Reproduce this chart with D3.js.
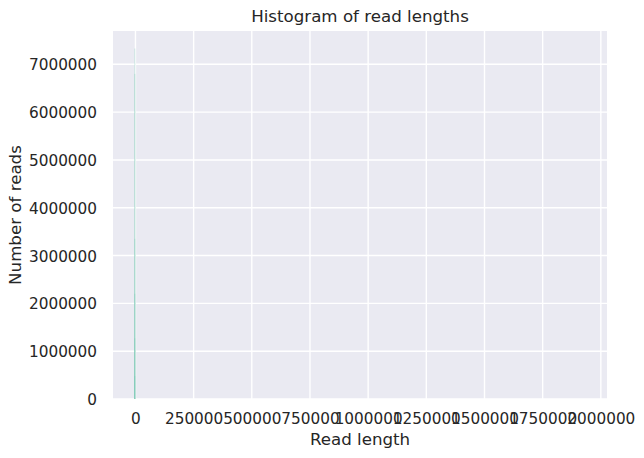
<!DOCTYPE html>
<html>
<head>
<meta charset="utf-8">
<script src="https://cdn.jsdelivr.net/npm/d3@7"></script>
<style>
  html, body { margin: 0; padding: 0; background: #ffffff; }
  svg { display: block; }
  text { font-family: "DejaVu Sans", sans-serif; fill: #262626; }
</style>
</head>
<body>
<svg id="chart" width="644" height="458"></svg>
<script>
// ---- data ----
// read length range covered by the histogram (bins run from min to max read length)
const readLengthRange = [0, 1930000];
// the only visible bin (all others are ~0 at this scale)
const firstBin = [-6000, 0];
// overlaid, semi-transparent histograms (one per sample): count in the first bin
const sampleNames = ["s1", "s2", "s3", "s4", "s5", "s6"];
const firstBinCounts = [7330000, 6800000, 3350000, 2200000, 1270000, 480000];
// tick labels
const xTicks = [0, 250000, 500000, 750000, 1000000, 1250000, 1500000, 1750000, 2000000];
const yTicks = [0, 1000000, 2000000, 3000000, 4000000, 5000000, 6000000, 7000000];

// ---- layout ----
const W = 644, H = 458;
const plot = { left: 113, right: 607, top: 31, bottom: 399 };

const svg = d3.select("#chart");

// domains with matplotlib-like 5% margins
const xr = readLengthRange[1] - readLengthRange[0];
const x = d3.scaleLinear()
  .domain([readLengthRange[0] - 0.05 * xr, readLengthRange[1] + 0.05 * xr])
  .range([plot.left, plot.right]);
const ymaxData = d3.max(firstBinCounts);
const y = d3.scaleLinear()
  .domain([0, ymaxData * 1.05])
  .range([plot.bottom, plot.top]);

// background
svg.append("rect")
  .attr("x", plot.left).attr("y", plot.top)
  .attr("width", plot.right - plot.left).attr("height", plot.bottom - plot.top)
  .attr("fill", "#eaeaf2");

// grid
const grid = svg.append("g").attr("stroke", "#ffffff").attr("stroke-width", 1.4);
grid.selectAll("line.gx").data(xTicks).join("line")
  .attr("x1", d => x(d)).attr("x2", d => x(d))
  .attr("y1", plot.top).attr("y2", plot.bottom);
grid.selectAll("line.gy").data(yTicks).join("line")
  .attr("x1", plot.left).attr("x2", plot.right)
  .attr("y1", d => y(d)).attr("y2", d => y(d));

// bars (overlaid histograms)
svg.append("g").selectAll("rect").data(firstBinCounts).join("rect")
  .attr("x", x(firstBin[0]))
  .attr("width", x(firstBin[1]) - x(firstBin[0]))
  .attr("y", d => y(d))
  .attr("height", d => y(0) - y(d))
  .attr("fill", "#66c2a5")
  .attr("fill-opacity", 0.2);

// axes (no spines, no tick marks)
const fmt = d3.format("d");
const xAxis = d3.axisBottom(x).tickValues(xTicks).tickFormat(fmt).tickSize(0).tickPadding(0);
const gx = svg.append("g").attr("transform", `translate(0,${plot.bottom})`).call(xAxis);
gx.select(".domain").remove();
gx.selectAll("text")
  .attr("dy", null)
  .attr("y", 24.5)
  .style("font-size", "15.28px")
  .style("font-family", "'DejaVu Sans', sans-serif")
  .attr("fill", "#262626");

const yAxis = d3.axisLeft(y).tickValues(yTicks).tickFormat(fmt).tickSize(0).tickPadding(0);
const gy = svg.append("g").attr("transform", `translate(${plot.left},0)`).call(yAxis);
gy.select(".domain").remove();
gy.selectAll("text")
  .attr("x", -16)
  .attr("dy", "0.36em")
  .style("font-size", "15.28px")
  .style("font-family", "'DejaVu Sans', sans-serif")
  .attr("fill", "#262626");

// title and axis labels
const cx = (plot.left + plot.right) / 2;
svg.append("text")
  .attr("x", cx).attr("y", 22.3)
  .attr("text-anchor", "middle")
  .style("font-size", "16.67px")
  .text("Histogram of read lengths");

svg.append("text")
  .attr("x", cx).attr("y", 445)
  .attr("text-anchor", "middle")
  .style("font-size", "16.67px")
  .text("Read length");

svg.append("text")
  .attr("transform", `translate(21,${(plot.top + plot.bottom) / 2}) rotate(-90)`)
  .attr("text-anchor", "middle")
  .style("font-size", "16.67px")
  .text("Number of reads");
</script>
</body>
</html>
